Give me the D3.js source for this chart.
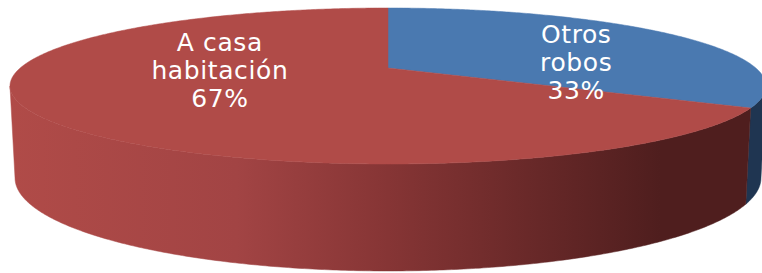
<!DOCTYPE html>
<html>
<head>
<meta charset="utf-8">
<script src="https://cdn.jsdelivr.net/npm/d3@7"></script>
<style>
  html, body { margin: 0; padding: 0; background: #fff; }
  svg { display: block; }
</style>
</head>
<body>
<div id="chart"></div>
<script>
// data
const categories = ["Otros robos", "A casa habitación"];
const values = [33, 67];
const labelLines = [["Otros", "robos"], ["A casa", "habitación"]];
const topColors = ["#4a79b0", "#b04b48"];
const sideColors = ["#1f3551", "url(#redSide)"];

const width = 762,
  height = 273;

// perspective disc: apex of the top face, radii, depth factor
const p = 0.2308;
const topFace = { x0: 388, y0: 68, a: 367.8, b: 73.85 };
const bottomFace = { x0: 388, y0: 156.5, a: 362.9, b: 88.05 };

function proj(face, theta, r = 1) {
  const u = Math.sin(theta) * r,
    v = Math.cos(theta) * r,
    w = 1 + p * v;
  return [face.x0 + (face.a * u) / w, face.y0 - (face.b * v) / w];
}

// label anchors (angle in degrees, radius) on the top face
const labelAt = [
  { angle: 81, r: 0.528 },
  { angle: 266.6, r: 0.455 },
];

const svg = d3
  .select("#chart")
  .append("svg")
  .attr("width", width)
  .attr("height", height);

const defs = svg.append("defs");
const grad = defs
  .append("linearGradient")
  .attr("id", "redSide")
  .attr("gradientUnits", "userSpaceOnUse")
  .attr("x1", 10)
  .attr("x2", 766)
  .attr("y1", 0)
  .attr("y2", 0);
[
  [0, "#b04b48"],
  [0.3, "#a24444"],
  [0.5, "#863535"],
  [0.7, "#672828"],
  [0.86, "#4f1e1e"],
  [1, "#4f1e1e"],
].forEach(([o, c]) => grad.append("stop").attr("offset", o).attr("stop-color", c));

const pie = d3.pie().sort(null).startAngle(0).endAngle(2 * Math.PI);
const arcs = pie(values);

const line = d3.line();
const step = Math.PI / 360;

function sample(a0, a1) {
  const n = Math.max(2, Math.ceil(Math.abs(a1 - a0) / step));
  return d3.range(n + 1).map((i) => a0 + ((a1 - a0) * i) / n);
}

// visible front of the wall, between the silhouette points
const frontR = Math.atan2(Math.sqrt(1 - p * p), -p);
const frontL = 2 * Math.PI - frontR;

const g = svg.append("g");

// side walls
arcs.forEach((d, i) => {
  const a0 = Math.max(d.startAngle, frontR),
    a1 = Math.min(d.endAngle, frontL);
  if (a1 <= a0) return;
  const ts = sample(a0, a1);
  const pts = ts
    .map((t) => proj(topFace, t))
    .concat(ts.slice().reverse().map((t) => proj(bottomFace, t)));
  g.append("path")
    .attr("d", line(pts) + "Z")
    .attr("fill", sideColors[i])
    .attr("stroke", sideColors[i])
    .attr("stroke-width", 0.5);
});

// top faces
arcs.forEach((d, i) => {
  const pts = [proj(topFace, 0, 0)].concat(
    sample(d.startAngle, d.endAngle).map((t) => proj(topFace, t))
  );
  g.append("path")
    .attr("d", line(pts) + "Z")
    .attr("fill", topColors[i])
    .attr("stroke", topColors[i])
    .attr("stroke-width", 0.5);
});

// labels
const total = d3.sum(values);
const pct = d3.format(".0%");
const lineH = 28;

arcs.forEach((d, i) => {
  const la = labelAt[i];
  const [cx, cy] = proj(topFace, (la.angle * Math.PI) / 180, la.r);
  const lines = labelLines[i].concat([pct(values[i] / total)]);
  const text = g
    .append("text")
    .attr("text-anchor", "middle")
    .attr("fill", "#fff")
    .style("font-family", "'DejaVu Sans', sans-serif")
    .style("font-size", "25px")
    .style("letter-spacing", "0.6px");
  lines.forEach((s, k) => {
    text
      .append("tspan")
      .attr("x", cx)
      .attr("y", cy + (k - (lines.length - 1) / 2) * lineH + 9)
      .text(s);
  });
});
</script>
</body>
</html>
